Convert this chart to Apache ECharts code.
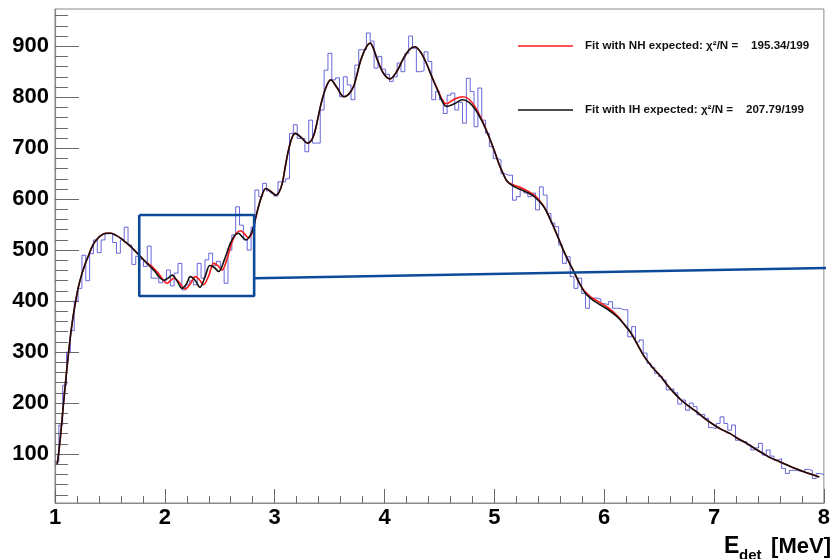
<!DOCTYPE html>
<html>
<head>
<meta charset="utf-8">
<script src="https://cdn.jsdelivr.net/npm/echarts@6/dist/echarts.min.js"></script>
<style>
  html, body { margin: 0; padding: 0; background: #fff; }
  #chart { width: 833px; height: 559px; }
</style>
</head>
<body>
<div id="chart"></div>
<script>
// Energy range of the histogram (MeV)
const energyRange = [1, 8];

// Event counts per bin, 200 bins of 0.035 MeV
const binCounts = [
  85, 157, 235, 300, 342, 400, 425, 490, 440, 493,
  520, 495, 520, 532, 533, 515, 494, 520, 545, 510,
  472, 488, 482, 468, 508, 445, 445, 436, 440, 461,
  430, 455, 474, 422, 432, 440, 432, 474, 445, 481,
  494, 470, 478, 462, 435, 500, 530, 585, 549, 520,
  500, 545, 618, 605, 631, 616, 612, 606, 634, 634,
  640, 729, 746, 719, 719, 693, 755, 710, 710, 775,
  853, 886, 834, 838, 801, 840, 824, 795, 863, 893,
  893, 926, 910, 857, 880, 855, 845, 831, 840, 867,
  850, 886, 920, 896, 850, 852, 889, 870, 795, 811,
  795, 768, 804, 808, 775, 790, 749, 837, 811, 742,
  818, 755, 729, 703, 680, 677, 650, 647, 647, 598,
  605, 621, 612, 605, 612, 579, 624, 608, 572, 553,
  546, 510, 474, 487, 448, 425, 445, 415, 386, 406,
  406, 404, 395, 393, 399, 386, 386, 383, 383, 330,
  350, 320, 324, 298, 278, 270, 258, 252, 245, 226,
  228, 220, 198, 206, 186, 200, 193, 177, 178, 170,
  152, 150, 160, 173, 160, 147, 157, 127, 124, 124,
  118, 108, 112, 121,  98, 108,  96,  88,  91,  72,
   62,  68,  68,  66,  65,  70,  68,  52,  62,  60
];

// Fit with inverted hierarchy (black)
const fitIHx = [1.02,1.035,1.05,1.065,1.08,1.10,1.12,1.14,1.165,1.19,1.21,1.24,1.27,1.31,1.345,1.38,1.42,1.465,1.51,1.555,1.60,1.645,1.69,1.735,1.78,1.825,1.87,
  1.91,1.95,1.99,2.03,2.067,2.11,2.157,2.195,2.233,2.275,2.32,2.365,2.41,2.45,2.49,2.54,2.59,2.63,2.67,2.705,2.74,2.78,2.81,2.833,2.88,2.92,2.965,3.01,3.04,3.07,3.10,3.13,3.16,3.19,3.245,3.30,3.33,3.36,3.39,3.42,3.465,3.51,3.57,3.63,3.675,3.72,3.75,3.78,3.825,3.87,3.90,3.93,3.99,4.05,4.11,4.17,4.225,4.276,4.33,4.38,4.435,4.49,4.53,4.56,4.635,4.71,4.77,4.83,4.89,4.95,5.00,5.04,5.08,5.12,5.185,5.25,5.31,5.37,5.45,5.52,5.58,5.64,5.685,5.73,5.775,5.82,5.88,5.94,6.03,6.12,6.18,6.245,6.30,6.365,6.44,6.516,6.576,6.636,6.70,6.77,6.846,6.92,7.0,7.07,7.147,7.22,7.297,7.37,7.447,7.52,7.597,7.67,7.747,7.85,7.958];
const fitIHy = [80,105,135,170,205,250,292,330,370,402,425,450,470,492,510,521,529,533,533,529,523,515,507,497,487,477,467,
  458,447,441,445,451,440,425,433,448,441,427,447,470,466,458,480,510,527,533,526,520,530,548,569,605,621,615,608,614,632,668,700,722,729,720,710,714,728,755,785,818,834,818,801,806,822,845,870,895,906,895,876,847,836,850,875,893,899,888,867,838,810,790,782,787,795,790,775,752,723,695,670,650,634,624,618,612,604,585,555,525,494,474,455,435,418,405,396,384,369,355,337,316,291,270,252,235,220,206,194,182,169,157,148,140,130,121,111,101,92,85,78,71,63,55];

// Fit with normal hierarchy (red)
const fitNHx = [1.02,1.035,1.05,1.065,1.08,1.10,1.12,1.14,1.165,1.19,1.21,1.24,1.27,1.31,1.345,1.38,1.42,1.465,1.51,1.555,1.60,1.645,1.69,1.735,1.78,1.825,1.87,
  1.91,1.95,1.99,2.02,2.05,2.082,2.13,2.187,2.23,2.278,2.315,2.352,2.40,2.445,2.48,2.52,2.565,2.61,2.65,2.69,2.725,2.76,2.795,2.833,2.88,2.92,2.965,3.01,3.04,3.07,3.10,3.13,3.16,3.19,3.245,3.30,3.33,3.36,3.39,3.42,3.465,3.51,3.57,3.63,3.675,3.72,3.75,3.78,3.825,3.87,3.90,3.93,3.99,4.05,4.11,4.17,4.225,4.276,4.33,4.38,4.435,4.49,4.53,4.56,4.635,4.71,4.77,4.83,4.89,4.95,5.00,5.04,5.08,5.12,5.185,5.25,5.31,5.37,5.45,5.52,5.58,5.64,5.685,5.73,5.775,5.82,5.88,5.94,6.03,6.12,6.18,6.245,6.30,6.365,6.44,6.516,6.576,6.636,6.70,6.77,6.846,6.92,7.0,7.07,7.147,7.22,7.297,7.37,7.447,7.52,7.597,7.67,7.747,7.85,7.958];
const fitNHy = [80,105,135,170,205,250,292,330,370,402,425,450,470,492,510,521,529,533,533,529,523,515,507,497,487,477,470,
  462,452,440,435,440,445,437,424,433,448,442,432,450,474,470,461,482,515,533,538,532,524,534,569,605,621,615,608,614,632,668,700,722,729,720,710,714,728,755,785,818,834,818,801,806,822,845,870,895,906,895,876,847,836,850,875,893,899,888,867,838,812,793,787,796,801,796,779,754,723,695,670,650,634,627,622,615,607,586,555,525,494,474,455,435,420,408,400,388,371,355,337,316,291,270,252,235,220,206,194,182,169,157,148,140,130,121,111,101,92,85,78,71,63,55];

// Zoom box around the 1.8-2.8 MeV oscillation region and its pointer line
const zoomBoxX = [1.767, 2.813];
const zoomBoxY = [410, 569];
const pointerX = [2.813, 8.02];
const pointerY = [445, 465];

// Axis ticks
const yMajorTicks = [100, 200, 300, 400, 500, 600, 700, 800, 900];
const yMinorTicks = [];
for (let v = 20; v <= 960; v += 20) if (v % 100 !== 0) yMinorTicks.push(v);

// Legend texts
const legendNH = 'Fit with NH expected: \u03c7\u00b2/N =    195.34/199';
const legendIH = 'Fit with IH expected: \u03c7\u00b2/N =    207.79/199';

const FONT = '"Liberation Sans", Arial, Helvetica, sans-serif';
const AXIS_GREY = '#8a8a8a';
const BOX_BLUE = '#0d4a9a';

const binWidth = (energyRange[1] - energyRange[0]) / binCounts.length;
const histData = binCounts.map((v, i) => [energyRange[0] + i * binWidth, v]);
histData.push([energyRange[1], binCounts[binCounts.length - 1]]);

const zip = (xs, ys) => xs.map((x, i) => [x, ys[i]]);
const boxData = [
  [zoomBoxX[0], zoomBoxY[1]], [zoomBoxX[1], zoomBoxY[1]],
  [zoomBoxX[1], zoomBoxY[0]], [zoomBoxX[0], zoomBoxY[0]],
  [zoomBoxX[0], zoomBoxY[1]]
];

const chart = echarts.init(document.getElementById('chart'), null, { renderer: 'canvas' });

const yAxisBase = {
  type: 'value', min: 4, max: 973, position: 'left',
  splitLine: { show: false }
};

chart.setOption({
  animation: false,
  backgroundColor: '#ffffff',
  grid: { left: 55, right: 2, top: 9, bottom: 56, show: true, borderColor: AXIS_GREY, borderWidth: 1 },
  xAxis: {
    type: 'value', min: energyRange[0], max: energyRange[1], interval: 1,
    axisLine: { lineStyle: { color: AXIS_GREY, width: 1.2 } },
    axisTick: { inside: true, length: 14, lineStyle: { color: '#6a6a6a', width: 1 } },
    minorTick: { show: true, splitNumber: 5, length: 7, lineStyle: { color: '#6a6a6a', width: 1 } },
    splitLine: { show: false },
    axisLabel: { color: '#000', fontWeight: 'bold', fontSize: 22, fontFamily: FONT, margin: 4 }
  },
  yAxis: [
    Object.assign({}, yAxisBase, {
      axisLine: { show: true, lineStyle: { color: AXIS_GREY, width: 1.2 } },
      axisTick: { show: true, inside: true, length: 24, customValues: yMajorTicks, lineStyle: { color: '#6a6a6a', width: 1 } },
      axisLabel: { customValues: yMajorTicks, color: '#000', fontWeight: 'bold', fontSize: 22, fontFamily: FONT, margin: 6 }
    }),
    Object.assign({}, yAxisBase, {
      axisLine: { show: false },
      axisTick: { show: true, inside: true, length: 13, customValues: yMinorTicks, lineStyle: { color: '#6a6a6a', width: 1 } },
      axisLabel: { show: false }
    })
  ],
  series: [
    {
      name: 'data', type: 'line', step: 'end', data: histData,
      symbol: 'none', z: 2,
      lineStyle: { color: 'rgba(55,55,205,0.75)', width: 1 }
    },
    {
      name: 'NH', type: 'line', data: zip(fitNHx, fitNHy), smooth: 0.35,
      symbol: 'none', z: 3,
      lineStyle: { color: '#ff1a1a', width: 1.6 }
    },
    {
      name: 'IH', type: 'line', data: zip(fitIHx, fitIHy), smooth: 0.35,
      symbol: 'none', z: 4,
      lineStyle: { color: '#111', width: 1.6 }
    },
    {
      name: 'zoom box', type: 'line', data: boxData, clip: false,
      symbol: 'none', z: 5, silent: true,
      lineStyle: { color: BOX_BLUE, width: 2.6 }
    },
    {
      name: 'pointer', type: 'line', data: zip(pointerX, pointerY), clip: false,
      symbol: 'none', z: 5, silent: true,
      lineStyle: { color: BOX_BLUE, width: 2.6 }
    }
  ],
  graphic: [
    { type: 'line', shape: { x1: 518, y1: 46, x2: 573, y2: 46 }, style: { stroke: '#ff1a1a', lineWidth: 1.5 } },
    { type: 'text', x: 585, y: 46, style: { text: legendNH, font: 'bold 11.6px ' + FONT, fill: '#111', textVerticalAlign: 'middle' } },
    { type: 'line', shape: { x1: 518, y1: 110, x2: 573, y2: 110 }, style: { stroke: '#111', lineWidth: 1.5 } },
    { type: 'text', x: 585, y: 110, style: { text: legendIH, font: 'bold 11.6px ' + FONT, fill: '#111', textVerticalAlign: 'middle' } },
    { type: 'text', x: 724, y: 547, style: { text: 'E', font: 'bold 23px ' + FONT, fill: '#000', textVerticalAlign: 'middle' } },
    { type: 'text', x: 739, y: 556, style: { text: 'det', font: 'bold 15px ' + FONT, fill: '#000', textVerticalAlign: 'middle' } },
    { type: 'text', x: 831, y: 547, style: { text: '[MeV]', font: 'bold 22px ' + FONT, fill: '#000', textAlign: 'right', textVerticalAlign: 'middle' } }
  ]
});
</script>
</body>
</html>
